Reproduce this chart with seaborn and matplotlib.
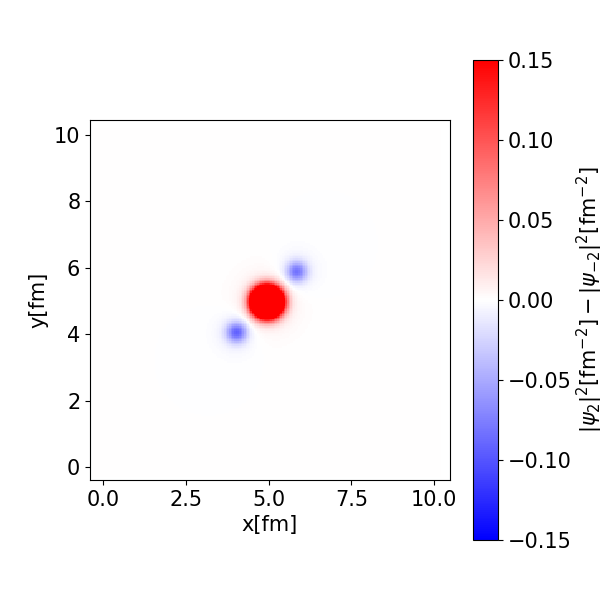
import numpy as np
import matplotlib
matplotlib.use("Agg")
import matplotlib.pyplot as plt
import seaborn as sns

# Field components (centre, amplitude, width)
blob_x = [4.95, 4.95, 4.03, 4.03, 5.85, 5.85]
blob_y = [4.98, 4.98, 4.06, 4.06, 5.89, 5.89]
blob_amp = [1.0, 0.014, -0.085, -0.010, -0.075, -0.010]
blob_sigma = [0.27, 0.65, 0.21, 0.45, 0.21, 0.45]

x_ticks = [0.0, 2.5, 5.0, 7.5, 10.0]
y_ticks = [0, 2, 4, 6, 8, 10]
cbar_ticks = [-0.15, -0.10, -0.05, 0.00, 0.05, 0.10, 0.15]

# grid
x0, x1, dx = -0.3, 10.2, 0.05
y0, y1, dy = -0.3, 10.2, 0.05
xc = np.arange(x0 + dx / 2, x1, dx)
yc = np.arange(y0 + dy / 2, y1, dy)
X, Y = np.meshgrid(xc, yc)
Z = np.zeros_like(X)
for bx, by, a, s in zip(blob_x, blob_y, blob_amp, blob_sigma):
    Z += a * np.exp(-((X - bx) ** 2 + (Y - by) ** 2) / (2 * s ** 2))

fig = plt.figure(figsize=(6, 6), dpi=100)
ax = fig.add_axes([90 / 600, 120 / 600, 360 / 600, 360 / 600])
cax = fig.add_axes([473 / 600, 60 / 600, 25 / 600, 480 / 600])

sns.heatmap(Z, ax=ax, cbar_ax=cax, cmap="bwr", vmin=-0.15, vmax=0.15,
            xticklabels=False, yticklabels=False)

ax.set_xlim((-0.40 - x0) / dx, (10.48 - x0) / dx)
ax.set_ylim((-0.38 - y0) / dy, (10.45 - y0) / dy)
ax.set_xticks([(v - x0) / dx for v in x_ticks])
ax.set_xticklabels([f"{v:.1f}" for v in x_ticks], rotation=0)
ax.set_yticks([(v - y0) / dy for v in y_ticks])
ax.set_yticklabels([str(v) for v in y_ticks], rotation=0)
ax.tick_params(labelsize=15, length=3.5, width=0.8, bottom=True, left=True)
for s in ax.spines.values():
    s.set_visible(True)
    s.set_linewidth(0.8)
    s.set_color("black")
ax.set_xlabel("x[fm]", fontsize=15)
ax.set_ylabel("y[fm]", fontsize=15)

cb = ax.collections[0].colorbar
cb.outline.set_linewidth(0.8)
cb.outline.set_edgecolor("black")
cb.set_ticks(cbar_ticks)
cb.set_ticklabels([f"{v:.2f}".replace("-", "\u2212") for v in cbar_ticks])
cb.ax.tick_params(labelsize=15, length=3.5, width=0.8)
cb.set_label(r"$|\psi_2|^2[\mathrm{fm}^{-2}] - |\psi_{-2}|^2[\mathrm{fm}^{-2}]$",
             fontsize=15, labelpad=2)

fig.savefig("out.png", dpi=100)
